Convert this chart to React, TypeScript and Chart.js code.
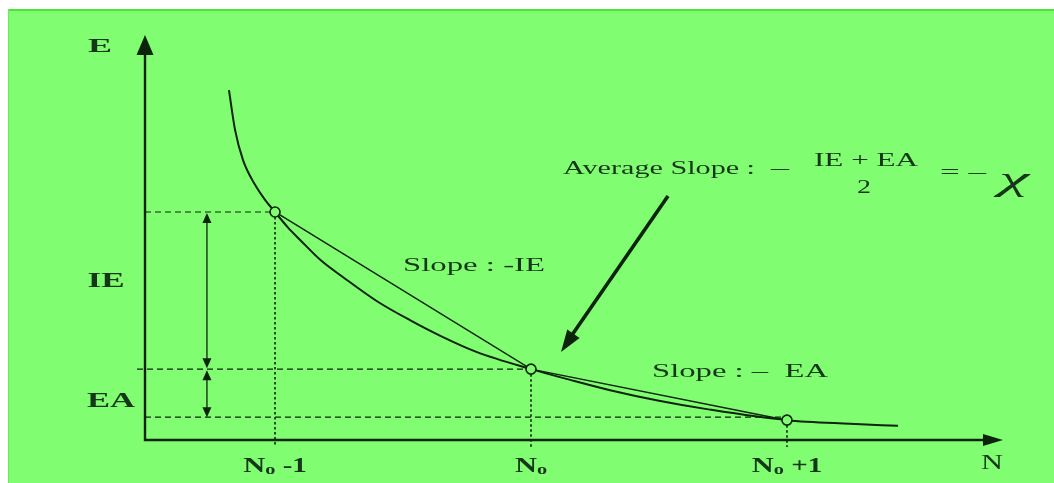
import { useEffect, useRef } from "react";
import { Chart, registerables } from "chart.js";
Chart.register(...registerables);

// Energy curve E(N) (N in units where N0-1 = 1, N0 = 2, N0+1 = 3)
const curveN = [0.82, 0.844, 0.875, 0.922, 0.961, 1, 1.05, 1.098, 1.18, 1.266, 1.4, 1.527, 1.65, 1.789, 2, 2.15, 2.309, 2.5, 2.699, 3, 3.246, 3.434];
const curveE = [8.64, 7.65, 6.91, 6.3, 5.93, 5.63, 5.25, 4.94, 4.43, 4.02, 3.42, 2.96, 2.56, 2.17, 1.75, 1.49, 1.23, 0.97, 0.75, 0.49, 0.4, 0.35];
// The three marked states
const pointN = [1, 2, 3];
const pointE = [5.63, 1.75, 0.49];
// Labels
const nTickLabels = ["N", "N", "N"];
const nTickSuffix = [" -1", "", " +1"];
const eGapLabels = ["IE", "EA"];
const slopeLabels = ["Slope : -IE", "Slope : \u2013  EA"];
const xTitle = "N";
const yTitle = "E";

const BG = "rgb(128,253,112)";
const INK = "#0c230c";
const TXT = "#16361a";
const SERIF = "'Liberation Serif', 'Times New Roman', serif";
const OX = 8;
const OY = 9;

function stretchText(ctx: CanvasRenderingContext2D, s: string, x: number, y: number, font: string, w: number | null, align: "left" | "center", sx = 1.6) {
  ctx.save();
  ctx.font = font;
  ctx.textAlign = "left";
  ctx.textBaseline = "alphabetic";
  const m = ctx.measureText(s).width;
  const k = w ? w / m : sx;
  const width = m * k;
  const left = align === "center" ? x - width / 2 : x;
  ctx.translate(left, y);
  ctx.scale(k, 1);
  ctx.fillText(s, 0, 0);
  ctx.restore();
}

function arrowHead(ctx: CanvasRenderingContext2D, tx: number, ty: number, fx: number, fy: number, len: number, half: number) {
  const a = Math.atan2(ty - fy, tx - fx);
  const bx = tx - Math.cos(a) * len;
  const by = ty - Math.sin(a) * len;
  ctx.beginPath();
  ctx.moveTo(tx, ty);
  ctx.lineTo(bx + Math.sin(a) * half, by - Math.cos(a) * half);
  ctx.lineTo(bx - Math.sin(a) * half, by + Math.cos(a) * half);
  ctx.closePath();
  ctx.fill();
}

const decor = {
  id: "decor",
  beforeDraw(chart: any) {
    const { ctx, width, height } = chart;
    ctx.save();
    ctx.fillStyle = BG;
    ctx.fillRect(0, 0, width, height);
    ctx.fillStyle = "rgb(78,226,58)";
    ctx.fillRect(0, 0, width, 2);
    ctx.fillStyle = "rgb(100,240,85)";
    ctx.fillRect(0, 0, 1, height);
    ctx.restore();
  },
  beforeDatasetsDraw(chart: any) {
    const { ctx, chartArea, scales } = chart;
    const xs = scales.x;
    const ys = scales.y;
    ctx.save();
    ctx.strokeStyle = INK;
    // horizontal dashed guides
    ctx.lineWidth = 1.2;
    ctx.setLineDash([6, 4]);
    pointN.forEach((n, i) => {
      const py = ys.getPixelForValue(pointE[i]) - (i === 2 ? 3 : 0);
      ctx.beginPath();
      ctx.moveTo(chartArea.left - (i === 1 ? 8 : 0), py);
      ctx.lineTo(xs.getPixelForValue(n), py);
      ctx.stroke();
    });
    // vertical dotted guides
    ctx.lineWidth = 1.6;
    ctx.setLineDash([2.5, 2.5]);
    pointN.forEach((n, i) => {
      const px = xs.getPixelForValue(n);
      ctx.beginPath();
      ctx.moveTo(px, ys.getPixelForValue(pointE[i]));
      ctx.lineTo(px, chartArea.bottom + 7);
      ctx.stroke();
    });
    ctx.setLineDash([]);
    // IE / EA double arrows
    const ax = xs.getPixelForValue(0.734);
    ctx.fillStyle = INK;
    ctx.lineWidth = 1.3;
    for (let i = 0; i < 2; i++) {
      const y1 = ys.getPixelForValue(pointE[i]) + 1;
      const y2 = ys.getPixelForValue(pointE[i + 1]) - (i === 1 ? 3 : 1);
      ctx.beginPath();
      ctx.moveTo(ax, y1 + 6);
      ctx.lineTo(ax, y2 - 6);
      ctx.stroke();
      arrowHead(ctx, ax, y1, ax, y1 + 10, 10, 4.5);
      arrowHead(ctx, ax, y2, ax, y2 - 10, 10, 4.5);
    }
    ctx.restore();
  },
  afterDraw(chart: any) {
    const { ctx, chartArea, scales } = chart;
    const xs = scales.x;
    ctx.save();
    // axes
    ctx.strokeStyle = INK;
    ctx.fillStyle = INK;
    ctx.lineWidth = 2.4;
    ctx.beginPath();
    ctx.moveTo(chartArea.left, chartArea.top + 12);
    ctx.lineTo(chartArea.left, chartArea.bottom);
    ctx.lineTo(chartArea.right - 12, chartArea.bottom);
    ctx.stroke();
    arrowHead(ctx, chartArea.left, chartArea.top, chartArea.left, chartArea.top + 30, 20, 8.5);
    arrowHead(ctx, chartArea.right, chartArea.bottom, chartArea.right - 30, chartArea.bottom, 20, 6);

    // big arrow
    ctx.translate(-OX, -OY);
    ctx.lineWidth = 3.6;
    ctx.beginPath();
    ctx.moveTo(668, 196);
    ctx.lineTo(572, 335);
    ctx.stroke();
    arrowHead(ctx, 561, 352, 668, 196, 22, 7.5);

    ctx.fillStyle = TXT;
    // axis titles
    stretchText(ctx, yTitle, 100, 52, `bold 19px ${SERIF}`, 24, "center");
    stretchText(ctx, xTitle, 992, 469, `21px ${SERIF}`, 22, "center");
    // gap labels
    stretchText(ctx, eGapLabels[0], 106, 287, `bold 22px ${SERIF}`, 37, "center");
    stretchText(ctx, eGapLabels[1], 111, 407, `bold 22px ${SERIF}`, 48, "center");
    // slope labels
    stretchText(ctx, slopeLabels[0], 403, 271, `19px ${SERIF}`, 142, "left");
    stretchText(ctx, slopeLabels[1], 652, 377, `18px ${SERIF}`, 176, "left");
    // average slope formula
    stretchText(ctx, "Average Slope :", 563, 174, `19px ${SERIF}`, 192, "left");
    stretchText(ctx, "\u2013", 771, 174, `19px ${SERIF}`, 18, "left");
    stretchText(ctx, "IE + EA", 866, 166, `18px ${SERIF}`, 104, "center");
    stretchText(ctx, "2", 864, 193, `18px ${SERIF}`, 14, "center");
    stretchText(ctx, "= \u2013", 940, 178, `19px ${SERIF}`, 46, "left");
    stretchText(ctx, "\u03c7", 1014, 190, `italic 34px ${SERIF}`, 30, "center");
    ctx.translate(OX, OY);

    // x tick labels N0-1, N0, N0+1
    pointN.forEach((n, i) => {
      const px = xs.getPixelForValue(n);
      const y = chartArea.bottom + 32;
      const k = 1.45;
      ctx.font = `bold 21px ${SERIF}`;
      const w1 = ctx.measureText(nTickLabels[i]).width;
      ctx.font = `bold 14px ${SERIF}`;
      const w2 = ctx.measureText("o").width;
      ctx.font = `bold 20px ${SERIF}`;
      const w3 = ctx.measureText(nTickSuffix[i]).width;
      const total = (w1 + w2 + w3) * k;
      const left = px - total / 2;
      ctx.save();
      ctx.translate(left, y);
      ctx.scale(k, 1);
      ctx.font = `bold 21px ${SERIF}`;
      ctx.fillText(nTickLabels[i], 0, 0);
      ctx.font = `bold 14px ${SERIF}`;
      ctx.fillText("o", w1, 2);
      ctx.font = `bold 20px ${SERIF}`;
      ctx.fillText(nTickSuffix[i], w1 + w2, 0);
      ctx.restore();
    });
    ctx.restore();
  },
};

export default function App() {
  const ref = useRef<HTMLCanvasElement | null>(null);
  useEffect(() => {
    if (!ref.current) return;
    const chart = new Chart(ref.current, {
      type: "scatter",
      data: {
        datasets: [
          {
            data: pointN.map((n, i) => ({ x: n, y: pointE[i] })),
            showLine: false,
            pointRadius: 5,
            pointBorderWidth: 1.6,
            pointBackgroundColor: BG,
            pointBorderColor: INK,
            order: 0,
            clip: false,
          },
          {
            data: pointN.map((n, i) => ({ x: n, y: pointE[i] })),
            showLine: true,
            borderColor: INK,
            borderWidth: 1.5,
            pointRadius: 0,
            order: 1,
            clip: false,
          },
          {
            data: curveN.map((n, i) => ({ x: n, y: curveE[i] })),
            showLine: true,
            borderColor: INK,
            borderWidth: 2,
            pointRadius: 0,
            cubicInterpolationMode: "monotone",
            order: 2,
            clip: false,
          },
        ],
      },
      options: {
        animation: false,
        responsive: false,
        devicePixelRatio: 1,
        layout: { padding: { left: 137, right: 51, top: 26, bottom: 43 } },
        plugins: { legend: { display: false }, tooltip: { enabled: false } },
        events: [],
        scales: {
          x: { type: "linear", min: 0.492, max: 3.844, display: false },
          y: { type: "linear", min: 0, max: 10, display: false },
        },
      },
      plugins: [decor],
    } as any);
    return () => chart.destroy();
  }, []);
  return (
    <div style={{ position: "fixed", left: OX, top: OY, width: 1046, height: 474, background: BG }}>
      <canvas ref={ref} width={1046} height={474} style={{ display: "block", width: 1046, height: 474 }} />
    </div>
  );
}
